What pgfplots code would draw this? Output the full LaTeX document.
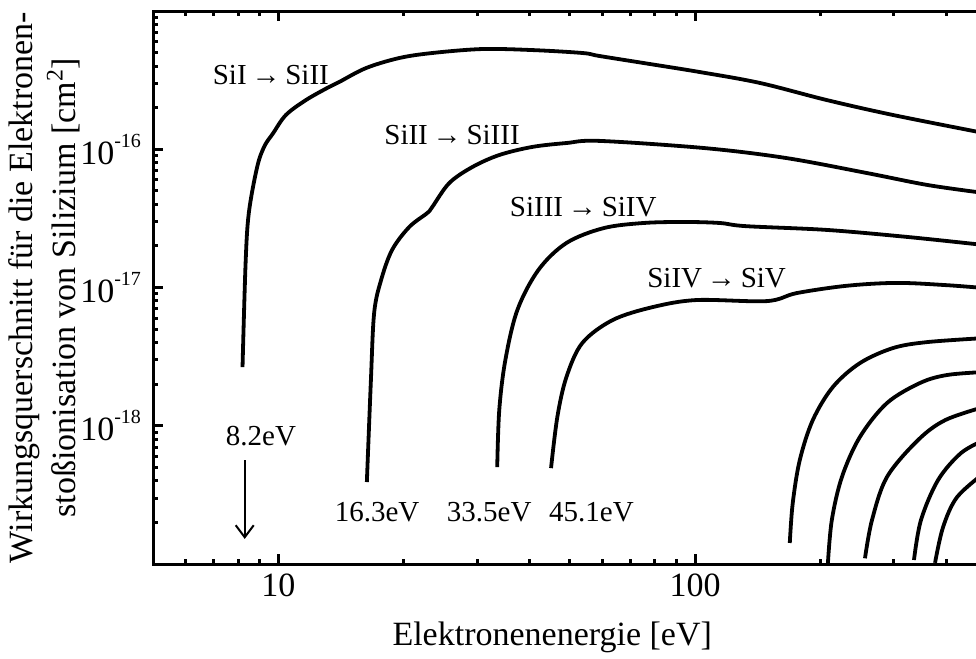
\documentclass[border=0pt]{standalone}
\usepackage{fontspec}
\setmainfont{Liberation Serif}
\usepackage{pgfplots}
\pgfplotsset{compat=1.18}
\usetikzlibrary{arrows.meta}

\newcommand{\bigfont}{\fontsize{17bp}{21.5bp}\selectfont}
\newcommand{\smallfont}{\fontsize{14.5bp}{17bp}\selectfont}
\newcommand{\dexp}[1]{10\raisebox{8.3bp}{\fontsize{10bp}{10bp}\selectfont #1}}

\begin{document}
\begin{tikzpicture}
\begin{axis}[
  xmode=log, ymode=log,
  xmin=5, xmax=500, ymin=1e-19, ymax=1e-15,
  scale only axis, width=416.7bp, height=276.5bp,
  axis line style={line width=1.5bp},
  every tick/.style={line width=1.5bp, black},
  major tick length=5bp, minor tick length=2.5bp,
  xtick={10,100}, xticklabels={10,100},
  minor xtick={6,7,8,9,20,30,40,50,60,70,80,90,200,300,400},
  ytick={1e-19,1e-18,1e-17,1e-16,1e-15},
  yticklabels={{},\dexp{-18},\dexp{-17},\dexp{-16},{}},
  minor ytick={2e-19,3e-19,4e-19,5e-19,6e-19,7e-19,8e-19,9e-19,
               2e-18,3e-18,4e-18,5e-18,6e-18,7e-18,8e-18,9e-18,
               2e-17,3e-17,4e-17,5e-17,6e-17,7e-17,8e-17,9e-17,
               2e-16,3e-16,4e-16,5e-16,6e-16,7e-16,8e-16,9e-16},
  tick label style={font=\bigfont},
  xticklabel style={yshift=-1.5bp},
  yticklabel style={xshift=-2.5bp},
  xlabel={Elektronenenergie [eV]},
  ylabel={Wirkungsquerschnitt für die Elektronen-\\stoßionisation von Silizium [cm\textsuperscript{2}]},
  label style={font=\bigfont},
  xlabel style={at={(axis description cs:0.479,-0.132)}, anchor=center},
  ylabel style={at={(axis description cs:-0.1308,0.5)}, anchor=center, rotate=0, align=center},
  every axis plot post/.append style={black, solid, line width=1.9bp, mark=none, smooth, tension=0.55},
]
% Si I -> Si II
\addplot coordinates {
 (8.2,2.66e-18) (8.34,1.50e-17) (8.49,3.46e-17) (8.89,7.44e-17) (9.25,1.05e-16)
 (9.70,1.30e-16) (10.42,1.77e-16) (11.64,2.27e-16) (13.22,2.82e-16) (13.97,3.06e-16)
 (16.23,3.87e-16) (19.48,4.57e-16) (23.39,4.97e-16) (30.84,5.31e-16) (40.66,5.22e-16)
 (53.7,4.97e-16) (58.9,4.73e-16) (77.8,4.14e-16) (102.6,3.62e-16) (142.9,3.02e-16)
 (207,2.27e-16) (298.5,1.77e-16) (493.8,1.31e-16)};
% Si II -> Si III
\addplot coordinates {
 (16.3,3.92e-19) (16.67,2.14e-18) (16.97,6.55e-18) (17.63,1.13e-17) (18.74,1.87e-17)
 (20.60,2.74e-17) (22.76,3.46e-17) (23.39,3.82e-17) (25.70,5.70e-17) (29.19,7.44e-17)
 (33.88,9.09e-17) (40.66,1.04e-16) (49.1,1.11e-16) (58.9,1.15e-16) (105.4,1.02e-16)
 (165.2,8.65e-17) (258.5,6.73e-17) (362,5.51e-17) (493.8,4.83e-17)};
% Si III -> Si IV
\addplot coordinates {
 (33.5,5.03e-19) (33.88,1.30e-18) (35.04,2.99e-18) (37.44,6.87e-18) (42.06,1.34e-17)
 (49.1,2.10e-17) (60.3,2.69e-17) (75.2,2.93e-17) (94.4,2.98e-17) (114.6,2.93e-17)
 (132.2,2.78e-17) (207,2.61e-17) (324,2.32e-17) (493.8,2.03e-17)};
% Si IV -> Si V
\addplot coordinates {
 (45.1,4.94e-19) (46.7,1.16e-18) (49.1,2.25e-18) (53.6,3.97e-18) (63.4,5.82e-18)
 (79.1,7.22e-18) (100.8,8.12e-18) (148.6,7.98e-18) (175.4,9.12e-18) (231.3,1.03e-17)
 (304.9,1.08e-17) (401.9,1.04e-17) (493.8,9.91e-18)};
% Si V -> Si VI
\addplot coordinates {
 (168.7,1.42e-19) (171.5,2.76e-19) (178.3,5.65e-19) (191.6,1.10e-18) (214.1,1.91e-18)
 (248.5,2.84e-18) (298.4,3.65e-18) (360.2,4.03e-18) (493.8,4.31e-18)};
% Si VI -> Si VII
\addplot coordinates {
 (208.2,1.0e-19) (212.8,2.08e-19) (225,4.26e-19) (248.5,8.30e-19) (288.6,1.46e-18)
 (346.5,2.04e-18) (402.3,2.33e-18) (493.8,2.45e-18)};
% Si VII -> Si VIII
\addplot coordinates {
 (255.6,1.10e-19) (265.7,2.08e-19) (288.6,4.26e-19) (342.6,7.88e-19) (398.5,1.10e-18)
 (493.8,1.37e-18)};
% Si VIII -> Si IX
\addplot coordinates {
 (335.1,1.07e-19) (348.3,2.08e-19) (382.8,4.05e-19) (434.5,6.35e-19) (493.8,7.88e-19)};
% Si IX -> Si X
\addplot coordinates {
 (376.5,1.02e-19) (393.6,1.85e-19) (425.2,3.05e-19) (493.8,4.55e-19)};

\node[font=\smallfont] at (axis cs:9.59,3.44e-16) {SiI\,→\,SiII};
\node[font=\smallfont] at (axis cs:26.1,1.27e-16) {SiII\,→\,SiIII};
\node[font=\smallfont] at (axis cs:53.9,3.82e-17) {SiIII\,→\,SiIV};
\node[font=\smallfont] at (axis cs:112.6,1.17e-17) {SiIV\,→\,SiV};
\node[font=\smallfont] at (axis cs:9.08,8.44e-19) {8.2eV};
\node[font=\smallfont] at (axis cs:17.25,2.38e-19) {16.3eV};
\node[font=\smallfont] at (axis cs:32.06,2.38e-19) {33.5eV};
\node[font=\smallfont] at (axis cs:56.4,2.38e-19) {45.1eV};
\draw[line width=1bp, -{Straight Barb[width=9bp,length=6bp,line width=1bp]}]
  (axis cs:8.3,5.65e-19) -- (axis cs:8.3,1.52e-19);
\end{axis}
\pgfresetboundingbox
\path[use as bounding box] ([shift={(-76.5bp,-47.5bp)}]current axis.south west)
  rectangle ([shift={(411.5bp,282bp)}]current axis.south west);
\end{tikzpicture}
\end{document}
